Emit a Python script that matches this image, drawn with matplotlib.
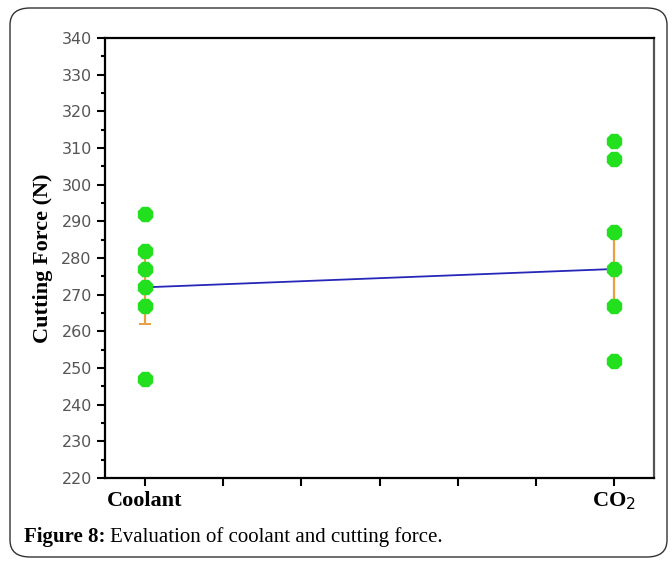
import numpy as np
import matplotlib.pyplot as plt
from matplotlib.patches import FancyBboxPatch

# measured cutting force per coolant condition
categories = ['Coolant', 'CO$_2$']
coolant_force = [292, 282, 277, 272, 267, 247]
co2_force = [312, 307, 287, 277, 267, 252]
center_force = [272, 277]
err_force = [10, 10]

fig = plt.figure(figsize=(6.72, 5.63), dpi=100)

# rounded frame around chart + caption
frame = FancyBboxPatch((10 / 672, 6 / 563), 657 / 672, 549 / 563,
                       boxstyle='round,pad=0,rounding_size=0.03',
                       transform=fig.transFigure, fill=False,
                       edgecolor='#333333', linewidth=1.0)
fig.patches.append(frame)

ax = fig.add_axes([105 / 672, 1 - 478 / 563, 549 / 672, 440 / 563])

xpos = np.array([0, 1])
ax.plot(xpos, center_force, color='#2626b8', linewidth=1.3, zorder=2)
ax.errorbar(xpos, center_force, yerr=err_force, fmt='none', ecolor='#e8a040',
            elinewidth=1.6, capsize=4, capthick=1.4, zorder=3)
for x, vals in zip(xpos, [coolant_force, co2_force]):
    ax.plot([x] * len(vals), vals, linestyle='none', marker='8', markersize=11,
            color='#22e01e', markeredgecolor='#22e01e', zorder=4)

ax.set_ylim(220, 340)
ax.set_yticks(np.arange(220, 341, 10))
ax.set_yticks(np.arange(225, 340, 10), minor=True)
ax.set_xlim(-0.085, 1.085)
ax.set_xticks(np.arange(0, 1.01, 1 / 6))
ax.set_xticklabels([categories[0], '', '', '', '', '', categories[1]],
                   fontfamily='Liberation Serif', fontweight='bold', fontsize=16)

ax.tick_params(axis='y', which='major', direction='out', length=6, width=1.5,
               labelsize=11.5, labelcolor='#555555')
ax.tick_params(axis='y', which='minor', direction='out', length=3, width=1.5)
ax.tick_params(axis='x', which='major', direction='out', length=6, width=1.5, pad=3)

for side in ['left', 'bottom', 'top']:
    ax.spines[side].set_linewidth(1.6)
ax.spines['right'].set_linewidth(1.6)
ax.spines['right'].set_color('#555555')

ax.set_ylabel('Cutting Force (N)', fontfamily='Liberation Serif', fontweight='bold',
              fontsize=16, labelpad=6)

fig.text(24 / 672, 1 - 537 / 563, 'Figure 8:', fontfamily='Liberation Serif',
         fontweight='bold', fontsize=15, va='center')
fig.text(110 / 672, 1 - 537 / 563, 'Evaluation of coolant and cutting force.',
         fontfamily='Liberation Serif', fontsize=15, va='center')

fig.savefig('out.png', dpi=100)
